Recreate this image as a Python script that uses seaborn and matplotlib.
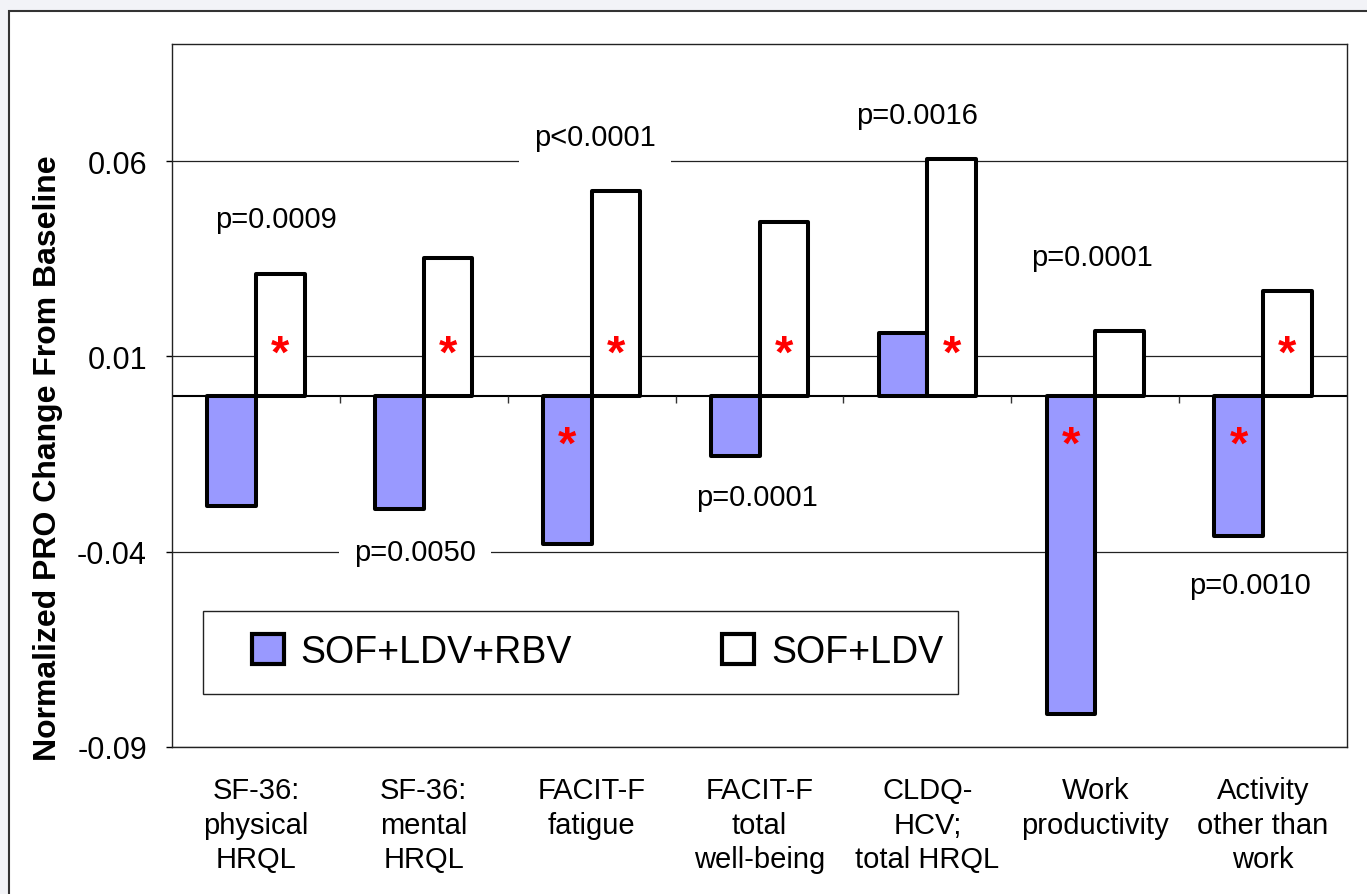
import numpy as np
import pandas as pd
import matplotlib
matplotlib.use("Agg")
import matplotlib.pyplot as plt
import matplotlib.patches as mpatches
import seaborn as sns

# values
measures = ["SF-36:\nphysical\nHRQL", "SF-36:\nmental\nHRQL", "FACIT-F\nfatigue",
            "FACIT-F\ntotal\nwell-being", "CLDQ-\nHCV;\ntotal HRQL",
            "Work\nproductivity", "Activity\nother than\nwork"]
groups = ["SOF+LDV+RBV", "SOF+LDV"]
rbv_values = [-0.0284, -0.0291, -0.0381, -0.0156, 0.0161, -0.0815, -0.0359]
ldv_values = [0.0312, 0.0353, 0.0524, 0.0445, 0.0606, 0.0166, 0.0268]
star_rbv = [0, 0, 1, 0, 0, 1, 1]
star_ldv = [1, 1, 1, 1, 1, 0, 1]
p_labels = ["p=0.0009", "p=0.0050", "p<0.0001", "p=0.0001", "p=0.0016", "p=0.0001", "p=0.0010"]
# where each p-value label sits (category units, value units)
p_x = [0.12, 0.95, 2.02, 2.985, 3.94, 4.98, 5.92]
p_y = [0.0451, -0.0400, 0.0661, -0.0259, 0.0719, 0.0354, -0.0485]
yticks = [-0.09, -0.04, 0.01, 0.06]

colors = {"SOF+LDV+RBV": "#9999ff", "SOF+LDV": "white"}

df = pd.DataFrame({
    "measure": measures * 2,
    "group": [groups[0]] * len(measures) + [groups[1]] * len(measures),
    "value": rbv_values + ldv_values,
})

sns.set_style("white")
plt.rcParams["font.family"] = ["Liberation Sans", "DejaVu Sans"]
plt.rcParams.update({"text.color": "black", "axes.labelcolor": "black",
                     "xtick.color": "black", "ytick.color": "black"})

fig = plt.figure(figsize=(13.67, 8.95), dpi=100)
fig.patch.set_facecolor("#f2f3f7")
frame = mpatches.Rectangle((9 / 1367, -0.05), 1.1, 1.05 - 12 / 895, transform=fig.transFigure,
                           facecolor="white", edgecolor="#333333", lw=1.5, zorder=-10)
fig.add_artist(frame)

ax = fig.add_axes([172 / 1367, 147 / 895, 1175 / 1367, 703 / 895])
ax.set_facecolor("white")

sns.barplot(data=df, x="measure", y="value", hue="group", hue_order=groups,
            palette=colors, saturation=1, edgecolor="black", linewidth=2.9, width=0.58, gap=0,
            errorbar=None, legend=False, ax=ax, zorder=3)
for bar in ax.patches:
    bar.set_joinstyle("round")

ax.set_ylim(-0.09, 0.09)
ax.set_xlim(-0.5, len(measures) - 0.5)
ax.set_yticks(yticks)
ax.set_yticklabels([f"{t:.2f}" for t in yticks])
ax.grid(axis="y", color="#222222", lw=0.9, zorder=0)
ax.axhline(0, color="black", lw=1.5, zorder=2)
ax.vlines(np.arange(1, len(measures)) - 0.5, -0.002, 0, color="#333333", lw=1, zorder=2)

ax.tick_params(axis="y", length=4, width=1, pad=14, labelsize=22, direction="out", left=True)
ax.tick_params(axis="x", length=0, pad=21, labelsize=21)
for lab in ax.get_xticklabels():
    lab.set_linespacing(1.3)
for s in ax.spines.values():
    s.set_color("#222222")
    s.set_linewidth(1)

ax.set_xlabel("")
ax.set_ylabel("Normalized PRO Change From Baseline", fontsize=23, fontweight="bold")
ax.yaxis.set_label_coords(-0.093, 0.4125)

# significance stars
offset = 0.29 / 2
for i in range(len(measures)):
    if star_ldv[i]:
        ax.annotate("*", (i + offset, 0.013), xytext=(0, -15.5), textcoords="offset points",
                    ha="center", va="baseline", color="red", fontsize=34, fontweight="bold", zorder=5)
    if star_rbv[i]:
        ax.annotate("*", (i - offset, -0.0105), xytext=(0, -15.5), textcoords="offset points",
                    ha="center", va="baseline", color="red", fontsize=34, fontweight="bold", zorder=5)

# p-values, white boxes break the gridlines but stay under the bars
for lab, x, y in zip(p_labels, p_x, p_y):
    ax.text(x, y, lab, ha="center", va="center", fontsize=21, zorder=2.5,
            bbox=dict(facecolor="white", edgecolor="none", pad=11))

# legend: frame drawn separately, entries placed inside it
legend_box = mpatches.Rectangle((31 / 1175, 53 / 703), 755 / 1175, 83 / 703, transform=ax.transAxes,
                                facecolor="white", edgecolor="#222222", lw=1, zorder=6)
ax.add_patch(legend_box)
handles = [mpatches.Patch(facecolor=colors[g], edgecolor="black", lw=3) for g in groups]
leg = ax.legend(handles, groups, ncol=2, loc="center left",
                bbox_to_anchor=(80 / 1175, 95 / 703), fontsize=27, frameon=False,
                borderpad=0, borderaxespad=0, columnspacing=4.0,
                handlelength=0.85, handleheight=0.85, handletextpad=0.45)
leg.set_zorder(7)

fig.savefig("out.png", dpi=100, facecolor=fig.get_facecolor())
